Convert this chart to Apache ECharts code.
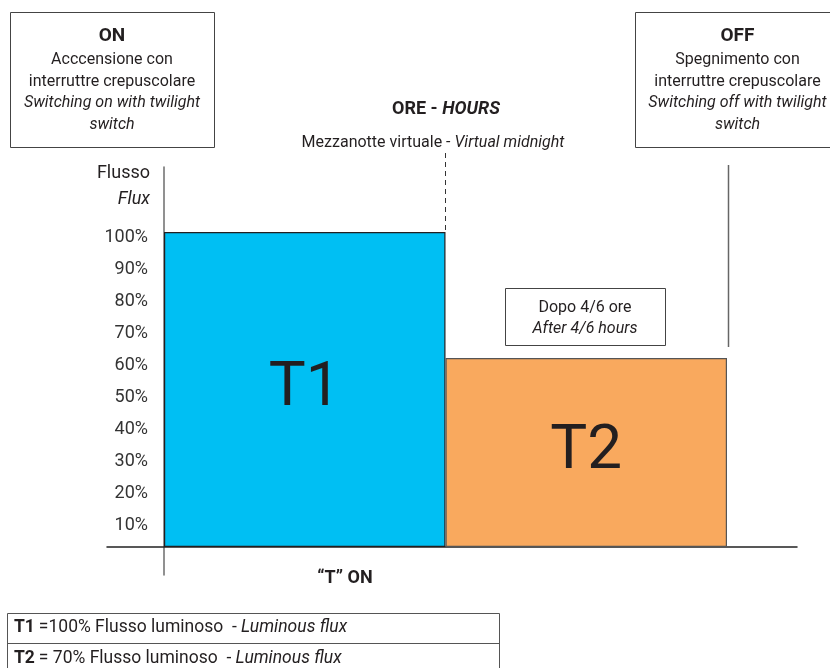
<!DOCTYPE html>
<html>
<head>
<meta charset="utf-8">
<script src="https://cdn.jsdelivr.net/npm/echarts@6/dist/echarts.min.js"></script>
<style>html,body{margin:0;padding:0;background:#fff}#c{width:830px;height:668px}</style>
</head>
<body>
<div id="c"></div>
<script>
const categories = ['T1', 'T2'];
const fluxValues = [100, 60];
const barColors = ['#00bff3', '#f9a95e'];
const tickValues = [10, 20, 30, 40, 50, 60, 70, 80, 90, 100];

const FONT = 'Roboto';
const chart = echarts.init(document.getElementById('c'), null, { renderer: 'canvas' });

function txt(x, y, s, o) {
  o = o || {};
  return {
    type: 'text', x: x, y: y, silent: true,
    style: Object.assign({
      text: s, fontFamily: FONT, fontSize: 16, fill: '#231f20',
      textAlign: 'center', textVerticalAlign: 'middle'
    }, o)
  };
}
function rect(x, y, w, h, stroke) {
  return { type: 'rect', silent: true, shape: { x: x, y: y, width: w, height: h },
    style: { fill: 'none', stroke: stroke || '#444', lineWidth: 1 } };
}
function line(x1, y1, x2, y2, o) {
  return { type: 'line', silent: true, shape: { x1: x1, y1: y1, x2: x2, y2: y2 },
    style: Object.assign({ stroke: '#333', lineWidth: 1 }, o || {}) };
}
const tableRich = {
  b: { fontFamily: FONT, fontSize: 17.5, fontWeight: 'bold', fill: '#231f20' },
  r: { fontFamily: FONT, fontSize: 17.5, fill: '#231f20' },
  i: { fontFamily: FONT, fontSize: 17.5, fontStyle: 'italic', fill: '#231f20' }
};

const graphics = [
  rect(10.5, 12.5, 204, 135),
  txt(112, 36, 'ON', { fontWeight: 'bold', fontSize: 19 }),
  txt(112, 60, 'Acccensione con'),
  txt(112, 82, 'interruttre crepuscolare'),
  txt(112, 103, 'Switching on with twilight', { fontStyle: 'italic' }),
  txt(112, 125, 'switch', { fontStyle: 'italic' }),

  rect(635.5, 12.5, 210, 135),
  txt(737.5, 36, 'OFF', { fontWeight: 'bold', fontSize: 19 }),
  txt(737.5, 60, 'Spegnimento con'),
  txt(737.5, 82, 'interruttre crepuscolare'),
  txt(737.5, 103, 'Switching off with twilight', { fontStyle: 'italic' }),
  txt(737.5, 125, 'switch', { fontStyle: 'italic' }),

  txt(446, 109, '{b|ORE - }{bi|HOURS}', {
    rich: {
      b: { fontFamily: FONT, fontSize: 18, fontWeight: 'bold', fill: '#231f20' },
      bi: { fontFamily: FONT, fontSize: 18, fontWeight: 'bold', fontStyle: 'italic', fill: '#231f20' }
    }
  }),
  txt(433, 143, '{r|Mezzanotte virtuale - }{i|Virtual midnight}', {
    rich: {
      r: { fontFamily: FONT, fontSize: 16, fill: '#231f20' },
      i: { fontFamily: FONT, fontSize: 16, fontStyle: 'italic', fill: '#231f20' }
    }
  }),

  txt(150, 173, 'Flusso', { textAlign: 'right', fontSize: 18 }),
  txt(150, 199, 'Flux', { textAlign: 'right', fontSize: 18, fontStyle: 'italic' }),

  line(445.5, 153, 445.5, 232, { lineDash: [5, 4], stroke: '#333' }),
  line(728.5, 165, 728.5, 347, { stroke: '#666', lineWidth: 1.5 }),

  rect(505.5, 288.5, 160, 57),
  txt(585, 308, 'Dopo 4/6 ore'),
  txt(585, 329, 'After 4/6 hours', { fontStyle: 'italic' }),

  txt(345, 578, '\u201cT\u201d ON', { fontWeight: 'bold', fontSize: 18 }),

  rect(7.5, 613.5, 492, 70, '#555'),
  line(7.5, 643.5, 499.5, 643.5, { stroke: '#555' }),
  txt(14, 628, '{b|T1} {r|=100% Flusso luminoso  - }{i|Luminous flux}', {
    textAlign: 'left', rich: tableRich
  }),
  txt(14, 659, '{b|T2} {r|= 70% Flusso luminoso  - }{i|Luminous flux}', {
    textAlign: 'left', rich: tableRich
  })
];

const option = {
  animation: false,
  backgroundColor: '#fff',
  grid: [
    { left: 164, right: 103, top: 232, bottom: 121 },
    { left: 107, right: 33, top: 232, bottom: 121 },
    { left: 164, width: 10, top: 167, bottom: 93 }
  ],
  xAxis: [
    { type: 'category', gridIndex: 0, data: categories, boundaryGap: true,
      axisLine: { show: false }, axisTick: { show: false }, axisLabel: { show: false } },
    { type: 'value', gridIndex: 1, min: 0, max: 1,
      axisLine: { show: true, onZero: false, lineStyle: { color: '#222', width: 1.5 } },
      axisTick: { show: false }, axisLabel: { show: false }, splitLine: { show: false } },
    { type: 'value', gridIndex: 2, min: 0, max: 1, show: false }
  ],
  yAxis: [
    { type: 'value', gridIndex: 0, min: 0, max: 100, show: false },
    { type: 'value', gridIndex: 0, min: 3.125, max: 101.5625, position: 'left',
      axisLine: { show: false }, axisTick: { show: false }, splitLine: { show: false },
      axisLabel: { show: true, customValues: tickValues, formatter: '{value}%',
        fontFamily: FONT, fontSize: 18, color: '#333', margin: 16 } },
    { type: 'value', gridIndex: 1, min: 0, max: 1, show: false },
    { type: 'value', gridIndex: 2, min: 0, max: 1,
      axisLine: { show: true, onZero: false, lineStyle: { color: '#6d6d6d', width: 1.5 } },
      axisTick: { show: false }, axisLabel: { show: false }, splitLine: { show: false } }
  ],
  series: [{
    type: 'bar', xAxisIndex: 0, yAxisIndex: 0,
    barCategoryGap: '0%',
    data: fluxValues.map((v, i) => ({
      value: v,
      itemStyle: { color: barColors[i], borderColor: i === 0 ? '#231f20' : '#555', borderWidth: 1.2 }
    })),
    label: { show: true, position: 'inside', formatter: '{b}', fontFamily: FONT,
      fontSize: 62, color: '#231f20' }
  }],
  graphic: graphics
};
chart.setOption(option);
</script>
</body>
</html>
